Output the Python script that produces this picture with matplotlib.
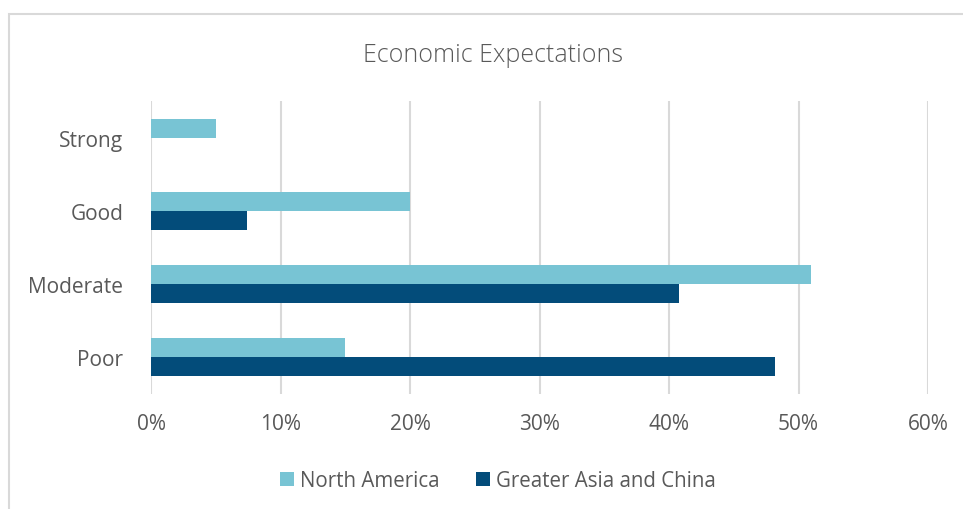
import matplotlib.pyplot as plt
import numpy as np
from matplotlib.patches import Rectangle

categories = ["Strong", "Good", "Moderate", "Poor"]
north_america = [5, 20, 51, 15]
greater_asia = [0, 7.4, 40.8, 48.2]
xticks = [0, 10, 20, 30, 40, 50, 60]

plt.rcParams['font.family'] = ['Open Sans', 'DejaVu Sans']
txt = '#595959'

fig = plt.figure(figsize=(9.63, 5.10), dpi=100)
ax = fig.add_axes([151 / 963, 1 - 395 / 510, (928 - 151) / 963, (395 - 102) / 510])

y = np.arange(len(categories))
h = 0.26
ax.barh(y - h / 2, north_america, height=h, color='#78C4D4', label='North America', zorder=3)
ax.barh(y + h / 2, greater_asia, height=h, color='#034C7A', label='Greater Asia and China', zorder=3)

ax.set_xlim(0, 60)
ax.set_ylim(3.5, -0.5)
ax.set_xticks(xticks)
ax.set_xticklabels([f"{t}%" for t in xticks])
ax.set_yticks(y)
ax.set_yticklabels(categories)
ax.tick_params(length=0, labelsize=15, colors=txt)
ax.tick_params(axis='x', pad=14)
ax.tick_params(axis='y', pad=20)
ax.xaxis.grid(True, color='#D9D9D9', linewidth=1.5, zorder=0)
for s in ax.spines.values():
    s.set_visible(False)

fig.text(493 / 963, 1 - 55 / 510, "Economic Expectations", ha='center', va='center',
         fontsize=18, color=txt, fontweight='light')

fig.legend(loc='center', bbox_to_anchor=(498 / 963, 1 - 482 / 510), ncol=2, frameon=False,
           fontsize=14.8, labelcolor=txt, handlelength=0.65, handleheight=0.65,
           handletextpad=0.3, columnspacing=1.8)

fig.patches.append(Rectangle((9 / 963, -0.1), 1.2, 1 - 15 / 510 + 0.1, transform=fig.transFigure,
                             fill=False, edgecolor='#D9D9D9', linewidth=1.5))

fig.savefig('out.png', dpi=100)
